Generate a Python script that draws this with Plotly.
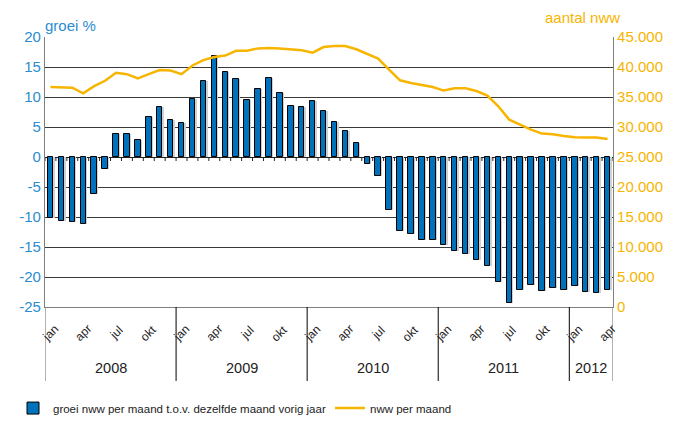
import plotly.graph_objects as go

# maanden jan 2008 .. apr 2012
years = ["2008", "2009", "2010", "2011", "2012"]
months_per_year = [12, 12, 12, 12, 4]
month_names = ["jan", "feb", "mrt", "apr", "mei", "jun", "jul", "aug", "sep", "okt", "nov", "dec"]
label_months = ["jan", "apr", "jul", "okt"]

growth_pct = [
    -10.2, -10.7, -10.8, -11.1, -6.2, -2.0, 3.8, 3.8, 2.8, 6.6, 8.3, 6.1,
    5.6, 9.6, 12.6, 16.9, 14.1, 13.0, 9.5, 11.3, 13.1, 10.6, 8.5, 8.4,
    9.3, 7.6, 5.8, 4.4, 2.3, -1.1, -3.1, -8.8, -12.3, -12.9, -13.9, -13.9,
    -14.7, -15.7, -16.2, -17.1, -18.2, -20.9, -24.4, -22.2, -21.4, -22.4, -21.9, -22.1,
    -21.5, -22.5, -22.7, -22.1,
]
nww_count = [
    36650, 36650, 36550, 35600, 36800, 37700, 39050, 38800, 38100, 38800, 39500, 39400,
    38800, 40250, 41150, 41650, 41900, 42700, 42720, 43100, 43170, 43100, 42950, 42780,
    42400, 43330, 43500, 43500, 42950, 42170, 41390, 39550, 37780, 37330, 36950, 36670,
    36070, 36450, 36450, 36000, 35230, 33450, 31230, 30400, 29570, 28900, 28780, 28500,
    28280, 28230, 28230, 28000,
]

left_ticks = [-25, -20, -15, -10, -5, 0, 5, 10, 15, 20]
right_ticks = [0, 5000, 10000, 15000, 20000, 25000, 30000, 35000, 40000, 45000]

BLUE_TXT = "#2b8ccf"
BAR = "#0072bb"
ORANGE = "#f7b500"
FONT = "Liberation Sans, Arial, sans-serif"

labels = [month_names[m] for y, n in zip(years, months_per_year) for m in range(n)]
x = list(range(len(growth_pct)))
n = len(x)

fig = go.Figure()

# schaduw achter de staven
fig.add_trace(go.Bar(
    x=x, y=growth_pct, width=0.5, offset=-0.12,
    marker=dict(color="#d0d0d0", line=dict(width=0)),
    showlegend=False, hoverinfo="skip",
))
fig.add_trace(go.Bar(
    x=x, y=growth_pct, width=0.5,
    name="groei nww per maand t.o.v. dezelfde maand vorig jaar",
    marker=dict(color=BAR, line=dict(color="#000000", width=1)),
    legend="legend",
))
fig.add_trace(go.Scatter(
    x=x, y=nww_count, yaxis="y2", mode="lines",
    name="nww per maand",
    line=dict(color=ORANGE, width=2.5),
    legend="legend2",
))

shapes = []
# kleine streepjes op de nullijn tussen de maanden
for k in range(n + 1):
    shapes.append(dict(
        type="line", xref="x", yref="y", x0=k - 0.5, x1=k - 0.5,
        ysizemode="pixel", yanchor=0, y0=0, y1=-4,
        line=dict(color="#222222", width=1),
    ))
# scheidingslijnen tussen jaren in de categorie-as
start = -0.5
bounds = [start]
for cnt in months_per_year:
    start += cnt
    bounds.append(start)
for i, b in enumerate(bounds):
    edge = i == 0 or i == len(bounds) - 1
    shapes.append(dict(
        type="line", xref="x", yref="paper", x0=b, x1=b, y0=0, y1=-0.274,
        line=dict(color="#7f7f7f" if edge else "#000000", width=1.2 if edge else 1),
    ))

annotations = []
for i, lab in enumerate(labels):
    if lab in label_months:
        annotations.append(dict(
            x=i, y=-0.097, xref="x", yref="paper", text=lab, showarrow=False,
            xanchor="center", yanchor="middle",
            textangle=-45, font=dict(size=12, color="#222222", family=FONT),
        ))
for yr, b0, b1 in zip(years, bounds[:-1], bounds[1:]):
    annotations.append(dict(
        x=(b0 + b1) / 2, y=-0.227, xref="x", yref="paper", text=yr, showarrow=False,
        xanchor="center", yanchor="middle",
        font=dict(size=14.5, color="#222222", family=FONT),
    ))
annotations.append(dict(
    x=-0.004, y=1.041, xref="paper", yref="paper", text="groei %", showarrow=False,
    xanchor="left", yanchor="middle", font=dict(size=15, color=BLUE_TXT, family=FONT),
))
annotations.append(dict(
    x=0.877, y=1.074, xref="paper", yref="paper", text="aantal nww", showarrow=False,
    xanchor="left", yanchor="middle", font=dict(size=15, color=ORANGE, family=FONT),
))

legend_style = dict(
    orientation="h", xref="container", yref="container",
    y=0.033, xanchor="left", yanchor="middle",
    font=dict(size=11.5, color="#222222", family=FONT),
    bgcolor="rgba(0,0,0,0)",
)

fig.update_layout(
    width=696, height=422,
    margin=dict(l=45, r=83, t=37, b=115, autoexpand=False),
    paper_bgcolor="white", plot_bgcolor="white",
    barmode="overlay", bargap=0,
    separators=",.",
    font=dict(family=FONT),
    xaxis=dict(
        range=[-0.5, n - 0.5], showticklabels=False, ticks="",
        showgrid=False, zeroline=False, automargin=False,
        showline=True, linecolor="#7f7f7f", linewidth=1.2,
    ),
    yaxis=dict(
        range=[-25, 20], tickvals=left_ticks, ticktext=[str(v) for v in left_ticks],
        tickfont=dict(size=15, color=BLUE_TXT), automargin=False,
        showgrid=True, gridcolor="#3a3a3a", gridwidth=1,
        zeroline=True, zerolinecolor="#222222", zerolinewidth=1.2,
        showline=True, linecolor="#7f7f7f", linewidth=1.2, ticks="",
    ),
    yaxis2=dict(
        range=[0, 45000], tickvals=right_ticks, tickformat=",d",
        overlaying="y", side="right", automargin=False,
        tickfont=dict(size=15, color=ORANGE),
        showgrid=False, zeroline=False,
        showline=True, linecolor="#7f7f7f", linewidth=1.2, ticks="",
    ),
    showlegend=True,
    legend=dict(x=13 / 696, **legend_style),
    legend2=dict(x=330 / 696, **legend_style),
    shapes=shapes,
    annotations=annotations,
)

# de standaard body-marge van de browser weghalen
fig.write_html(
    "out.html",
    config={"displayModeBar": False},
    post_script="document.body.style.margin='0px';",
)
